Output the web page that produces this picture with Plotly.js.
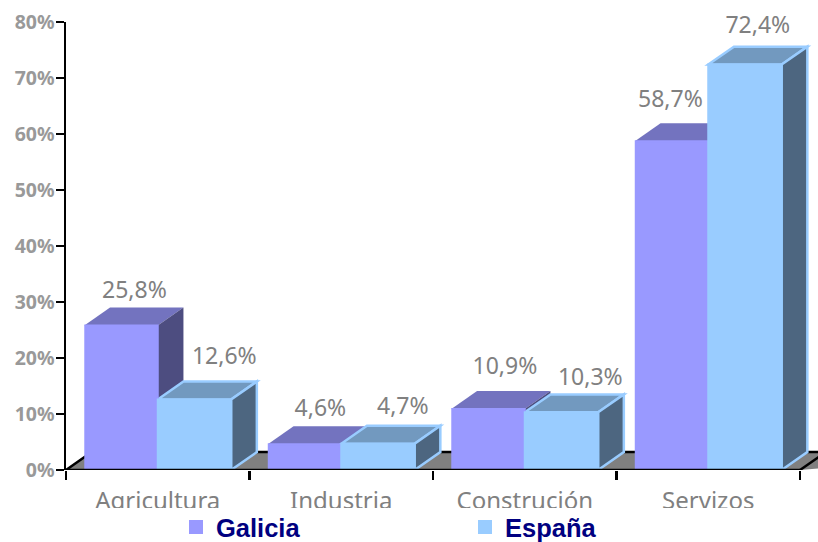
<!DOCTYPE html>
<html><head><meta charset="utf-8">
<script src="https://cdn.plot.ly/plotly-3.0.1.min.js"></script>
<style>html,body{margin:0;padding:0;background:#fff;overflow:hidden}</style>
</head><body><div id="chart" style="width:818px;height:542px"></div>
<script>
const categories = ['Agricultura','Industria','Construción','Servizos'];
const galicia = [25.8, 4.6, 10.9, 58.7];
const espana = [12.6, 4.7, 10.3, 72.4];
const galiciaLabels = ['25,8%','4,6%','10,9%','58,7%'];
const espanaLabels = ['12,6%','4,7%','10,3%','72,4%'];
const yTicks = [0,10,20,30,40,50,60,70,80];
// hand placement of the value labels, in pixels relative to the bar's back top edge
const galiciaNudgeX = [0.5, 3, 4, -14];
const galiciaNudgeUp = [4, 5, 11, 11];
const espanaNudgeX = [17, 12, 16, 0];
const espanaNudgeUp = [12, 6, 4, 8];

const W = 818, H = 542, L = 66, T = 22, B = 470;
const catW = 183.5, xMax = (W - L) / catW, pxPerUnit = (B - T) / 80;
const dx = 0.14, dy = 3.2, bw = 0.4;
const centers = categories.map((_, i) => i + 0.5);
const poly = pts => 'M' + pts.map(p => p.join(',')).join('L') + 'Z';
const face = (pts, fill, line) => ({type:'path', xref:'x', yref:'y', layer:'below', path:poly(pts),
  fillcolor:fill, line: line ? {color:line, width:2.5} : {width:0}});
const shapes = [];
// floor
shapes.push(face([[0,0],[dx,dy],[xMax+1,dy],[4,0]], '#808080'));
shapes.push({type:'path', xref:'x', yref:'y', layer:'below', path:'M0,0L'+dx+','+dy+'L'+(xMax+1)+','+dy, line:{color:'#000',width:2.5}});
shapes.push({type:'path', xref:'x', yref:'y', layer:'below', path:'M4,0L'+(4+dx)+','+dy, line:{color:'#000',width:2.5}});
// depth faces
function depth(vals, x0Off, top, side, line){
  vals.forEach((v,i)=>{
    const a = centers[i]+x0Off, b = a+bw;
    shapes.push(face([[a,v],[a+dx,v+dy],[b+dx,v+dy],[b,v]], top, line));
    shapes.push(face([[b,0],[b+dx,dy],[b+dx,v+dy],[b,v]], side, line));
  });
}
depth(galicia, -bw, '#7373bf', '#4d4d80');
depth(espana, 0, '#7299bf', '#4d6680', '#99ccff');
// baseline
shapes.push({type:'line', xref:'x', yref:'y', x0:0, x1:4, y0:0, y1:0, line:{color:'#000',width:2.5}});
// category labels are cut off at the bottom in the original
shapes.push({type:'rect', xref:'paper', yref:'paper', layer:'above', x0:0, x1:1, y0:-(542-B)/(B-T), y1:-(508-B)/(B-T), fillcolor:'#fff', line:{width:0}});

const labelFont = {family:'"Noto Sans"', size:23, color:'#808080'};
const data = [
 {type:'bar', name:'Galicia', x:centers, y:galicia, width:0.395, offset:-0.395, marker:{color:'#9999ff', line:{color:'#9999ff',width:2}}, hoverinfo:'skip'},
 {type:'bar', name:'España', x:centers, y:espana, width:bw, offset:0, marker:{color:'#99ccff', line:{color:'#99ccff',width:2}}, hoverinfo:'skip'},
 {type:'scatter', mode:'text', showlegend:false, x:centers.map((c,i)=>c-bw/2+dx/2+galiciaNudgeX[i]/catW), y:galicia.map((v,i)=>v+dy+galiciaNudgeUp[i]/pxPerUnit), text:galiciaLabels, textposition:'top center', textfont:labelFont, cliponaxis:false, hoverinfo:'skip'},
 {type:'scatter', mode:'text', showlegend:false, x:centers.map((c,i)=>c+bw/2+dx/2+espanaNudgeX[i]/catW), y:espana.map((v,i)=>v+dy+espanaNudgeUp[i]/pxPerUnit), text:espanaLabels, textposition:'top center', textfont:labelFont, cliponaxis:false, hoverinfo:'skip'}
];
const layout = {
 width:W, height:H, paper_bgcolor:'#fff', plot_bgcolor:'rgba(0,0,0,0)',
 margin:{l:L, r:0, t:T, b:H-B, pad:0, autoexpand:false},
 barmode:'overlay', shapes:shapes,
 xaxis:{range:[0,xMax], tickmode:'array', tickvals:centers, ticktext:categories, ticks:'', showgrid:false, zeroline:false, showline:false,
   tickfont:{family:'"Noto Sans"', size:24, color:'#808080'}, ticklabelstandoff:14,
   minor:{tickmode:'array', tickvals:[0,1,2,3,4], ticks:'outside', ticklen:9, tickwidth:2.5, tickcolor:'#000', showgrid:false}},
 yaxis:{range:[0,80], tickmode:'array', tickvals:yTicks, ticktext:yTicks.map(v=>v+'%'), ticks:'outside', ticklen:8, tickwidth:2.5, tickcolor:'#000', showgrid:false, zeroline:false, ticklabelstandoff:-3,
   showline:true, linecolor:'#000', linewidth:2.5, tickfont:{family:'"Noto Sans"', size:19.5, color:'#999', weight:'bold'}},
 legend:{orientation:'h', x:(176-L)/(W-L), xanchor:'left', y:-(504-B)/(B-T), yanchor:'top', entrywidth:244, entrywidthmode:'pixels', traceorder:'normal',
   bgcolor:'rgba(0,0,0,0)', font:{family:'"Liberation Sans"', size:25.5, color:'#000080', weight:'bold'}},
 showlegend:true
};
Plotly.newPlot('chart', data, layout, {displayModeBar:false, staticPlot:true});
</script></body></html>
